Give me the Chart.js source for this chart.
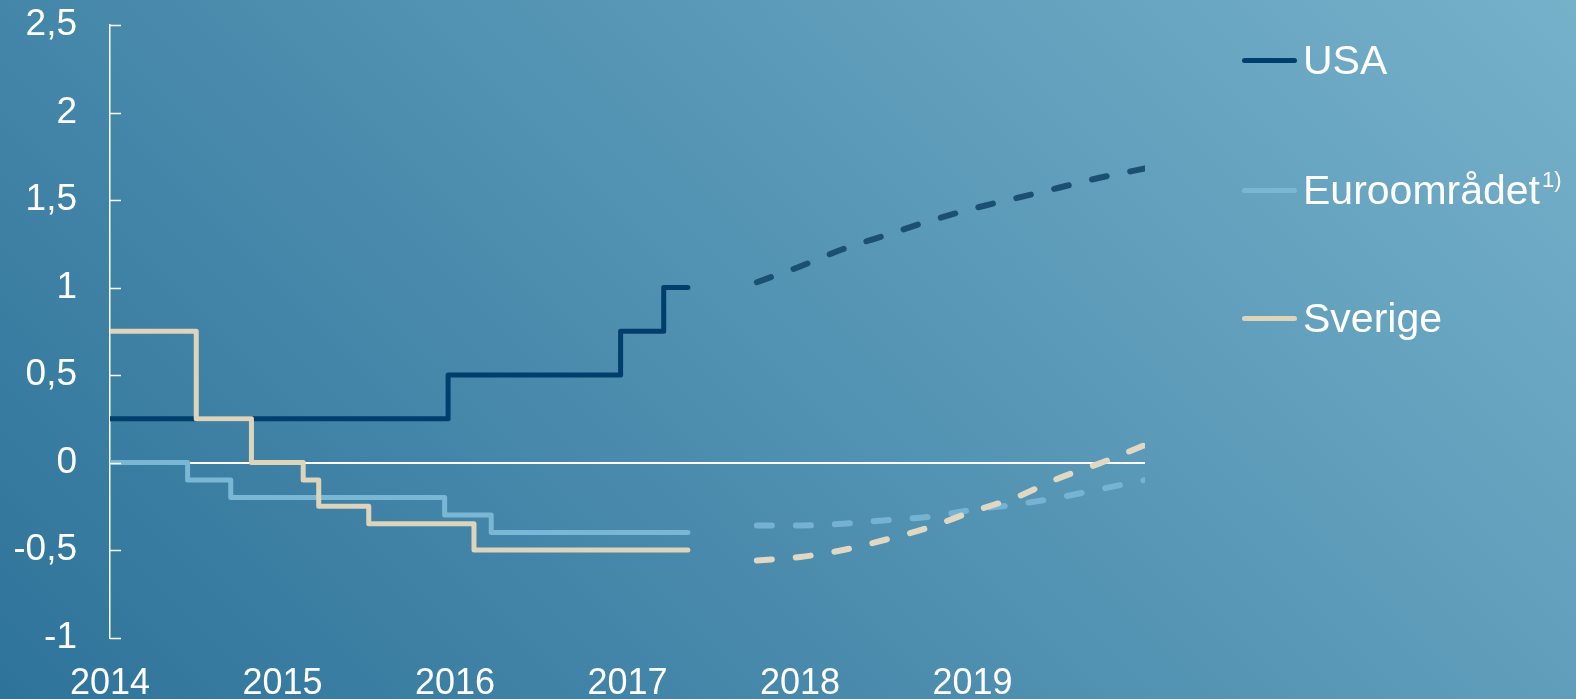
<!DOCTYPE html>
<html lang="sv">
<head>
<meta charset="utf-8">
<title>Styrräntor och marknadens förväntningar</title>
<script src="https://cdn.jsdelivr.net/npm/chart.js@4"></script>
<style>
  html, body { margin: 0; padding: 0; }
  body {
    width: 1576px; height: 699px; overflow: hidden; position: relative;
    background: linear-gradient(45deg, #2e739a 0%, #76b1ca 100%);
    font-family: "Liberation Sans", Arial, sans-serif;
  }
  #chart { position: absolute; left: 0; top: 0; }
  #legend { position: absolute; left: 1242px; top: 0; color: #fff; }
  .item { position: absolute; left: 0; height: 50px; display: flex; align-items: center; white-space: nowrap; font-size: 41px; }
  .swatch { width: 55px; height: 5px; border-radius: 3px; margin-right: 6px; }
  .item sup { font-size: 22px; line-height: 1; align-self: flex-start; margin-top: 4px; margin-left: 2px; }
</style>
</head>
<body>
<canvas id="chart" width="1576" height="699"></canvas>
<div id="legend"></div>
<script>
// axis labels
const yearLabels = ["2014", "2015", "2016", "2017", "2018", "2019"];
const seriesNames = ["USA", "Euroområdet", "Sverige"];
const seriesColors = ["#003f6d", "#7ab7d4", "#ddd4bc"];
const forecastColors = ["#1b5073", "rgba(125,185,215,0.85)", "#e0d8c2"];

// policy rates, each point = date of change (decimal year) and new level
const usaDates = [2014.0, 2015.96, 2016.96, 2017.21, 2017.35];
const usaRates = [0.25, 0.5, 0.75, 1.0, 1.0];
const euroDates = [2014.0, 2014.45, 2014.70, 2015.94, 2016.21, 2017.35];
const euroRates = [0, -0.1, -0.2, -0.3, -0.4, -0.4];
const sweDates = [2014.0, 2014.5, 2014.82, 2015.12, 2015.21, 2015.5, 2016.11, 2017.35];
const sweRates = [0.75, 0.25, 0, -0.1, -0.25, -0.35, -0.5, -0.5];

// market expectations (dashed), quarterly
const fcDates = [2017.75, 2018.0, 2018.25, 2018.5, 2018.75, 2019.0, 2019.25, 2019.5, 2019.75, 2020.0];
const usaFc = [1.03, 1.12, 1.22, 1.30, 1.38, 1.45, 1.51, 1.57, 1.63, 1.68];
const euroFc = [-0.36, -0.36, -0.35, -0.33, -0.31, -0.27, -0.24, -0.20, -0.15, -0.10];
const sweFc = [-0.56, -0.54, -0.50, -0.44, -0.37, -0.28, -0.20, -0.09, 0.0, 0.10];

const pts = (xs, ys) => xs.map((x, i) => ({ x: x, y: ys[i] }));

Chart.defaults.font.family = "'Liberation Sans', Arial, sans-serif";
Chart.defaults.color = "#fff";

function stepSet(i, xs, ys, order) {
    return {
        label: seriesNames[i],
        data: pts(xs, ys),
        borderColor: seriesColors[i],
        borderWidth: 5,
        stepped: true,
        pointRadius: 0,
        borderCapStyle: "round",
        borderJoinStyle: "round",
        order: order
    };
}

function fcSet(i, ys, order) {
    return {
        label: seriesNames[i] + " prognos",
        data: pts(fcDates, ys),
        borderColor: forecastColors[i],
        borderWidth: 6,
        borderDash: [15, 24],
        borderCapStyle: "round",
        pointRadius: 0,
        cubicInterpolationMode: "monotone",
        order: order
    };
}

// y-axis tick marks point into the plot
const innerTicks = {
    id: "innerTicks",
    afterDatasetsDraw(chart) {
        const y = chart.scales.y;
        const ctx = chart.ctx;
        const left = chart.chartArea.left;
        ctx.save();
        ctx.strokeStyle = "#fff";
        ctx.lineWidth = 1.5;
        y.ticks.forEach(t => {
            const py = Math.round(y.getPixelForValue(t.value)) + 0.5;
            ctx.beginPath();
            ctx.moveTo(left, py);
            ctx.lineTo(left + 11, py);
            ctx.stroke();
        });
        ctx.restore();
    }
};

new Chart(document.getElementById("chart"), {
    type: "line",
    data: {
        datasets: [
            stepSet(2, sweDates, sweRates, 1),
            stepSet(0, usaDates, usaRates, 2),
            stepSet(1, euroDates, euroRates, 3),
            fcSet(2, sweFc, 4),
            fcSet(0, usaFc, 5),
            fcSet(1, euroFc, 6)
        ]
    },
    options: {
        responsive: false,
        animation: false,
        devicePixelRatio: 1,
        layout: { padding: { left: 15, right: 431, top: 25, bottom: 0 } },
        plugins: { legend: { display: false }, tooltip: { enabled: false } },
        scales: {
            x: {
                type: "linear",
                min: 2014,
                max: 2020,
                grid: { display: false, drawTicks: false },
                border: { display: false },
                ticks: {
                    stepSize: 1,
                    autoSkip: false,
                    maxRotation: 0,
                    padding: 25,
                    font: { size: 36 },
                    callback: v => yearLabels[Math.round(v) - 2014] || ""
                },
                afterFit: s => {
                    s.height = 61.5;
                    s.paddingLeft = 0;
                    s.paddingRight = 0;
                }
            },
            y: {
                min: -1,
                max: 2.5,
                grid: {
                    drawTicks: false,
                    lineWidth: 2,
                    color: c => (c.tick && c.tick.value === 0 ? "#ffffff" : "rgba(0,0,0,0)")
                },
                border: { display: true, color: "#fff", width: 1.5 },
                ticks: {
                    stepSize: 0.5,
                    padding: 33,
                    font: { size: 37 },
                    callback: v => String(v).replace(".", ",")
                },
                afterFit: s => {
                    s.width = 95;
                    s.paddingTop = 0;
                    s.paddingBottom = 0;
                }
            }
        }
    },
    plugins: [innerTicks]
});

// legend
const legend = document.getElementById("legend");
const legendY = [60, 190, 318];
seriesNames.forEach((name, i) => {
    const item = document.createElement("div");
    item.className = "item";
    item.style.top = (legendY[i] - 25) + "px";
    const sw = document.createElement("span");
    sw.className = "swatch";
    sw.style.background = seriesColors[i];
    item.appendChild(sw);
    const txt = document.createElement("span");
    txt.textContent = name;
    item.appendChild(txt);
    if (i === 1) {
        const sup = document.createElement("sup");
        sup.textContent = "1)";
        item.appendChild(sup);
    }
    legend.appendChild(item);
});
</script>
</body>
</html>
